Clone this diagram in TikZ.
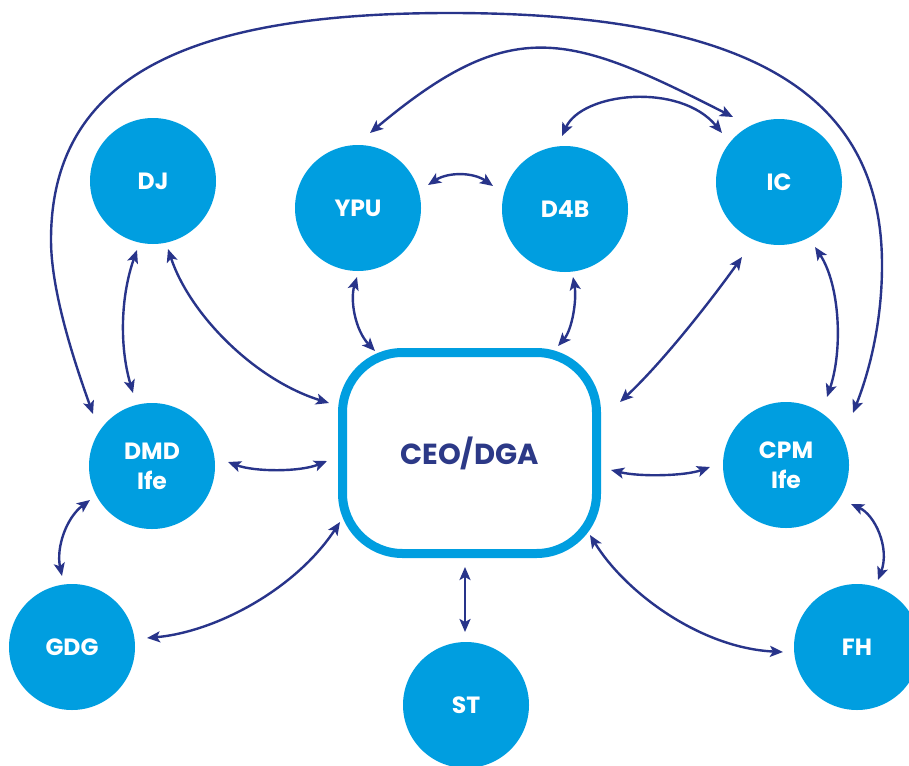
\documentclass[tikz,border=0pt]{standalone}
\usepackage{fontspec}
\setmainfont{Poppins}
\usetikzlibrary{arrows.meta}
\definecolor{orgblue}{RGB}{0,158,224}
\definecolor{linknavy}{RGB}{40,52,138}
\definecolor{ceotext}{RGB}{44,57,135}
\tikzset{
  unit/.style={circle, fill=orgblue, minimum size=126pt, inner sep=0pt,
    text=white, align=center, font=\fontsize{23.5}{30}\selectfont\bfseries},
  head/.style={draw=orgblue, line width=9pt, rounded corners=60pt,
    minimum width=254pt, minimum height=201pt, fill=white, text=ceotext,
    font=\fontsize{29}{32}\selectfont\bfseries},
  tip/.tip={Stealth[length=13pt,width=11pt,inset=3pt]},
  link/.style={draw=linknavy, line width=2.4pt, tip-tip},
}
\begin{document}
\begin{tikzpicture}[x=1pt,y=-1pt]
\useasboundingbox (0,0) rectangle (909,765);
\clip (0,0) rectangle (909,765);
\fill[white] (0,0) rectangle (909,765);

% units
\node[unit] (dj)  at (153,181) {DJ};
\node[unit] (ypu) at (358,208) {YPU};
\node[unit] (d4b) at (565,209) {D4B};
\node[unit] (ic)  at (779,182) {IC};
\node[unit] (dmd) at (152,466) {DMD\\Ife};
\node[unit] (cpm) at (786,465) {CPM\\Ife};
\node[unit] (gdg) at (72,647)  {GDG};
\node[unit] (st)  at (466,705) {ST};
\node[unit] (fh)  at (857,647) {FH};
\node[head] (ceo) at (469.5,453) {CEO/DGA};

% links between units
\draw[link] ([shift={(-16,69)}]dj.center) .. controls (121,295) and (119,345) .. ([shift={(-19,-73)}]dmd.center);
\draw[link] ([shift={(15,68)}]dj.center) .. controls (190,315) and (255,380) .. ([shift={(-140.5,-50)}]ceo.center);
\draw[link] ([shift={(-1,69)}]ypu.center) .. controls (350,300) and (355,330) .. ([shift={(-94.5,-102)}]ceo.center);
\draw[link] ([shift={(70,-23)}]ypu.center) .. controls (448,172) and (473,172) .. ([shift={(-72,-23)}]d4b.center);
\draw[link] ([shift={(8,68)}]d4b.center) .. controls (577,300) and (572,330) .. ([shift={(88.5,-107)}]ceo.center);
\draw[link] ([shift={(-37,75)}]ic.center) .. controls (715,295) and (665,360) .. ([shift={(150.5,-51)}]ceo.center);
\draw[link] ([shift={(36,65)}]ic.center) .. controls (840,285) and (843,350) .. ([shift={(41,-68)}]cpm.center);
\draw[link] ([shift={(-3,-73)}]d4b.center) .. controls (582,92) and (680,82) .. ([shift={(-57,-49)}]ic.center);
\draw[link] ([shift={(12,-75)}]ypu.center) .. controls (512,14) and (568,33) .. ([shift={(-46,-65)}]ic.center);
\draw[link] ([shift={(-59,-52)}]dmd.center) .. controls (78,372) and (51,295) .. (51,240)
  .. controls (51,70) and (200,13) .. (450,13)
  .. controls (760,13) and (882,100) .. (882,265)
  .. controls (882,330) and (866,380) .. ([shift={(67,-52)}]cpm.center);
\draw[link] ([shift={(76,-4)}]dmd.center) .. controls (255,472) and (300,472) .. ([shift={(-142.5,8)}]ceo.center);
\draw[link] ([shift={(141.5,17)}]ceo.center) .. controls (640,477) and (685,476) .. ([shift={(-76,2)}]cpm.center);
\draw[link] ([shift={(-62,34)}]dmd.center) .. controls (66,518) and (56,548) .. ([shift={(-10,-71)}]gdg.center);
\draw[link] ([shift={(75,-9)}]gdg.center) .. controls (215,632) and (295,590) .. ([shift={(-129.5,69)}]ceo.center);
\draw[link] ([shift={(-4.5,114)}]ceo.center) -- ([shift={(-1,-73)}]st.center);
\draw[link] ([shift={(120.5,82)}]ceo.center) .. controls (625,592) and (700,648) .. ([shift={(-74,5)}]fh.center);
\draw[link] ([shift={(65,39)}]cpm.center) .. controls (875,515) and (890,548) .. ([shift={(21,-67)}]fh.center);
\end{tikzpicture}
\end{document}
